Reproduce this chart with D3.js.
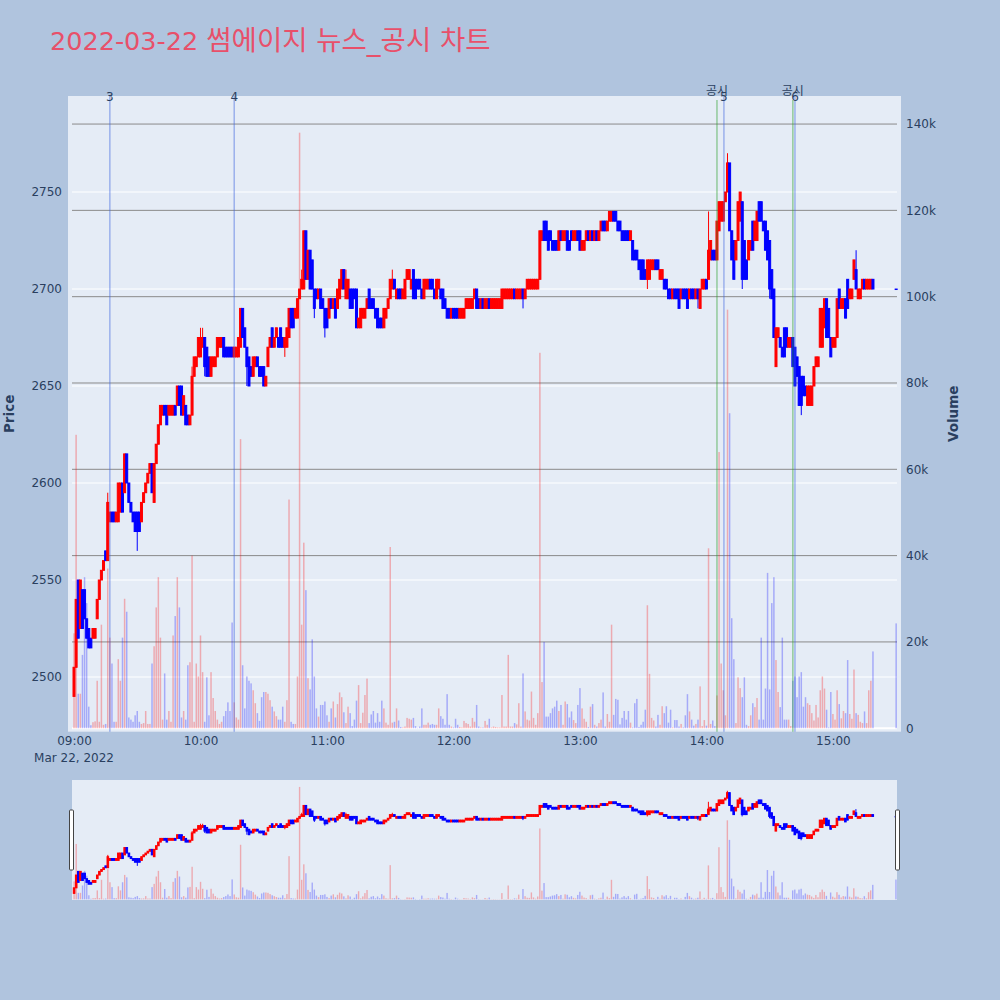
<!DOCTYPE html>
<html>
<head>
<meta charset="utf-8">
<script src="https://cdn.jsdelivr.net/npm/d3@7"></script>
<style>
  body { margin: 0; background: #b0c4de; }
  svg { display: block; font-family: "DejaVu Sans", "Noto Sans CJK KR", sans-serif; }
</style>
</head>
<body>
<div id="wrapper"></div>
<script>
// one-minute candles from 09:00 (index = minutes after the open)
const opens = [
  2490,2505,2550,2525,2545,2545,2530,2525,2520,2520, 2520,2530,2540,2550,2555,2565,2560,2580,2585,2585,
  2580,2580,2585,2600,2595,2615,2600,2590,2585,2585, 2585,2585,2580,2590,2595,2600,2605,2610,2590,2610,
  2620,2630,2635,2640,2640,2635,2635,2635,2640,2640, 2650,2650,2635,2640,2635,2630,2635,2655,2660,2665,
  2665,2670,2675,2670,2665,2655,2660,2660,2665,2670, 2670,2675,2670,2670,2670,2670,2665,2665,2665,2670,
  2690,2680,2670,2665,2660,2655,2660,2665,2660,2660, 2660,2650,2660,2670,2680,2670,2675,2675,2680,2675,
  2670,2670,2675,2690,2690,2685,2685,2695,2700,2700, 2730,2705,2720,2715,2700,2700,2695,2700,2695,2690,
  2690,2685,2695,2690,2695,2690,2695,2700,2710,2695, 2695,2700,2700,2700,2700,2680,2680,2685,2685,2690,
  2700,2695,2695,2690,2690,2685,2685,2680,2685,2690, 2695,2700,2705,2695,2700,2700,2695,2695,2705,2705,
  2700,2710,2705,2705,2705,2700,2695,2700,2700,2705, 2705,2700,2695,2700,2700,2700,2695,2690,2690,2685,
  2690,2690,2690,2685,2685,2685,2690,2690,2690,2690, 2695,2700,2695,2690,2695,2690,2690,2695,2690,2690,
  2690,2690,2690,2690,2695,2695,2695,2695,2695,2700, 2695,2695,2695,2700,2695,2700,2700,2700,2700,2700,
  2700,2705,2725,2735,2735,2730,2730,2725,2725,2725, 2720,2730,2725,2725,2730,2725,2730,2725,2725,2730,
  2730,2720,2720,2725,2730,2725,2730,2725,2730,2725, 2730,2735,2735,2730,2735,2735,2740,2740,2735,2735,
  2730,2730,2730,2730,2725,2725,2720,2720,2715,2715, 2715,2710,2705,2705,2710,2710,2715,2715,2705,2705,
  2705,2705,2700,2700,2695,2700,2700,2700,2695,2700, 2700,2700,2695,2700,2700,2695,2700,2690,2700,2700,
  2705,2705,2715,2720,2720,2715,2730,2735,2735,2745, 2750,2765,2730,2725,2715,2725,2735,2745,2725,2715,
  2715,2720,2735,2725,2725,2745,2745,2735,2735,2730, 2725,2710,2700,2660,2675,2675,2670,2680,2680,2670,
  2670,2675,2670,2665,2660,2655,2655,2650,2640,2640, 2640,2650,2660,2660,2670,2670,2680,2695,2690,2675,
  2670,2670,2675,2700,2690,2690,2695,2705,2695,2695, 2705,2710,2695,2695,2700,2705,2700,2700,2700,2705
];
const closes = [
  2505,2540,2520,2550,2525,2530,2520,2515,2515,2525, 2525,2540,2550,2555,2560,2560,2590,2585,2580,2580,
  2585,2600,2600,2585,2615,2600,2590,2585,2580,2575, 2575,2575,2590,2595,2600,2605,2610,2595,2610,2620,
  2630,2640,2640,2635,2630,2640,2640,2640,2635,2650, 2640,2635,2645,2630,2630,2635,2655,2665,2665,2675,
  2675,2675,2660,2655,2655,2665,2665,2665,2675,2675, 2675,2665,2665,2665,2665,2665,2670,2670,2675,2690,
  2675,2670,2660,2650,2655,2665,2665,2660,2655,2655, 2650,2655,2670,2675,2670,2675,2680,2670,2670,2670,
  2675,2680,2690,2680,2680,2690,2695,2700,2705,2730, 2705,2720,2700,2700,2690,2695,2700,2690,2690,2680,
  2680,2695,2690,2695,2685,2700,2705,2710,2700,2705, 2705,2690,2690,2695,2680,2685,2690,2690,2690,2695,
  2690,2690,2690,2685,2680,2680,2680,2690,2690,2695, 2705,2705,2700,2700,2695,2695,2700,2705,2710,2710,
  2705,2695,2695,2700,2700,2695,2705,2705,2705,2700, 2700,2695,2705,2705,2695,2690,2690,2685,2685,2690,
  2685,2685,2685,2690,2690,2690,2695,2695,2695,2695, 2700,2690,2690,2695,2690,2695,2695,2690,2695,2695,
  2695,2695,2695,2700,2700,2700,2700,2700,2700,2695, 2700,2700,2700,2695,2700,2705,2705,2705,2705,2705,
  2705,2730,2730,2725,2725,2720,2725,2720,2720,2720, 2730,2725,2730,2730,2720,2720,2725,2730,2730,2725,
  2720,2725,2725,2730,2725,2730,2725,2730,2725,2730, 2735,2730,2730,2735,2740,2740,2735,2735,2730,2730,
  2725,2725,2725,2725,2730,2715,2715,2715,2710,2705, 2705,2705,2715,2715,2715,2715,2710,2710,2710,2710,
  2700,2700,2695,2695,2700,2695,2695,2690,2700,2695, 2695,2690,2700,2695,2695,2700,2695,2700,2705,2705,
  2700,2720,2725,2715,2715,2735,2745,2745,2745,2750, 2765,2730,2715,2705,2725,2745,2750,2705,2705,2705,
  2725,2725,2720,2735,2740,2735,2735,2730,2720,2715, 2700,2695,2675,2680,2680,2670,2665,2665,2670,2675,
  2675,2660,2650,2655,2640,2640,2645,2645,2650,2650, 2650,2660,2665,2665,2690,2690,2695,2675,2675,2665,
  2675,2675,2695,2690,2695,2695,2685,2690,2700,2700, 2715,2700,2700,2700,2705,2700,2705,2705,2705,2700
];
// wick ends that reach past the body (minute -> price)
const wickHigh = {16: 2595, 56: 2660, 60: 2680, 61: 2680, 108: 2710, 129: 2710, 151: 2710,
  272: 2715, 301: 2740, 310: 2770, 371: 2720};
const wickLow = {30: 2565, 62: 2655, 82: 2650, 100: 2665, 114: 2685, 119: 2675, 213: 2690,
  272: 2700, 296: 2690, 317: 2700, 330: 2695, 345: 2635};
const volumes = [
  22000,68000,8000,8000,17000,35000,29000,5000,700,1400, 1600,11000,1500,24000,800,1000,37000,21000,15000,1500,
  1500,16000,11000,21000,30000,27000,2500,2000,1500,3000, 4000,1500,1000,1200,4000,1000,1000,15000,19000,28000,
  35000,21000,2000,12700,2000,4000,1500,21500,26000,35000, 28000,2500,4000,2000,14600,15300,40000,1500,15000,12000,
  21500,13000,1500,11800,3000,13000,7000,4000,2000,1000, 1500,2800,4000,6000,4000,24500,6000,2500,2000,67000,
  14600,4600,12000,11000,10400,8800,5800,3500,1700,7200, 8400,8400,8000,6500,5000,3900,2800,2000,2000,5000,
  1500,6500,53000,1500,1000,1000,12000,138000,24000,43000, 32000,11600,9000,20600,12000,4600,2700,5400,5400,6200,
  3000,1500,4600,6200,2500,5600,8300,7200,3700,1200, 5000,3500,500,2000,6400,10000,1200,3600,7700,11500,
  1200,3200,4000,1300,3500,1500,6400,4600,1300,800, 42000,1300,1500,4600,1800,300,200,400,2400,2200,
  2000,2400,500,100,400,4600,800,800,1300,800, 1000,800,800,4600,2800,2200,800,7900,800,400,
  200,2200,800,300,200,1700,1200,1000,400,2400, 1500,5400,400,200,200,1700,800,2200,200,400,
  300,200,200,7700,400,400,17000,400,400,1200, 900,5800,400,12700,3900,2000,1800,8500,2400,800,
  3500,87000,10700,20000,2700,2700,3500,4600,5000,6400, 4000,5400,800,6200,5600,2500,3900,1900,1200,5400,
  9300,4600,2200,1500,300,5000,5600,800,400,1200, 2000,8300,400,3300,1500,24000,3100,6800,6600,900,
  2400,4000,2000,4000,1300,200,5800,6800,300,800, 1500,4300,28500,12600,2400,1800,400,3100,800,5100,
  3500,5100,1300,4300,200,1900,1900,400,1000,200, 3000,7900,3900,2000,600,1000,2000,9700,500,1900,
  600,41700,1000,1800,500,7600,64000,15000,8800,3000, 97000,73000,25500,16000,1200,11800,9300,7200,11800,800,
  500,3000,5800,4900,7000,2000,21000,2000,9200,36000, 9000,29000,35000,15800,8400,4900,21000,2000,2000,2000,
  500,11000,12000,7200,12000,13000,5000,7200,5800,5400, 3500,1800,5400,2500,8800,12000,9200,4300,200,8400,
  3300,2000,8800,5600,2300,4000,3500,15800,3300,2200, 13600,3500,3100,1500,1200,3900,1200,8800,11000,17800
];
// closing auction print at 15:30
const closingMinute = 390, closingPrice = 2700, closingVolume = 24300;

const priceTicks = [2500, 2550, 2600, 2650, 2700, 2750];
const volumeTicks = [0, 20000, 40000, 60000, 80000, 100000, 120000, 140000];
const tickHours = [9, 10, 11, 12, 13, 14, 15];
const newsLines = [{minute: 17, label: "3"}, {minute: 76, label: "4"}, {minute: 308.3, label: "5"}, {minute: 342, label: "6"}];
const noticeLines = [{minute: 305, label: "공시"}, {minute: 341, label: "공시"}];
const titleDate = "2022-03-22 ";
const titleName = "썸에이지 뉴스_공시 차트";

const upColor = "#ff0000", downColor = "#0000ff", textColor = "#2a3f5f";
const t0 = new Date(2022, 2, 22, 9, 0);
const at = m => new Date(t0.getTime() + m * 60000);

const data = opens.map((o, i) => {
  const c = closes[i];
  return {
    t: at(i), o: o, c: c,
    h: wickHigh[i] !== undefined ? wickHigh[i] : Math.max(o, c),
    l: wickLow[i] !== undefined ? wickLow[i] : Math.min(o, c),
    v: volumes[i]
  };
});
data.push({t: at(closingMinute), o: closingPrice, c: closingPrice, h: closingPrice, l: closingPrice, v: closingVolume});
const isUp = d => d.c > d.o;

const plot = {left: 68, right: 901, top: 96, bottom: 731.7};
const slider = {left: 72, right: 897, top: 780, bottom: 900};

const svg = d3.select("#wrapper").append("svg").attr("width", 1000).attr("height", 1000);
svg.append("rect").attr("width", 1000).attr("height", 1000).attr("fill", "#b0c4de");

const x = d3.scaleTime().domain([at(-2.85), at(392.3)]).range([plot.left, plot.right]);
const yPrice = d3.scaleLinear().domain([2471.8, 2799.5]).range([plot.bottom, plot.top]);
const yVol = d3.scaleLinear().domain([-800, 146500]).range([plot.bottom, plot.top]);

// plot background and grids
svg.append("rect").attr("x", plot.left).attr("y", plot.top)
  .attr("width", plot.right - plot.left).attr("height", plot.bottom - plot.top).attr("fill", "#e5ecf6");
svg.append("g").selectAll("line").data(priceTicks).join("line")
  .attr("x1", 72).attr("x2", 897).attr("y1", d => yPrice(d)).attr("y2", d => yPrice(d))
  .attr("stroke", "#fff").attr("stroke-width", 1.2);
svg.append("g").selectAll("line").data(volumeTicks.slice(1)).join("line")
  .attr("x1", 72).attr("x2", 897).attr("y1", d => yVol(d)).attr("y2", d => yVol(d))
  .attr("stroke", "#8a8a8a").attr("stroke-width", 1);
svg.append("line").attr("x1", 72).attr("x2", 897).attr("y1", yVol(0)).attr("y2", yVol(0))
  .attr("stroke", "#fff").attr("stroke-width", 2);

// volume bars
svg.append("g").selectAll("rect").data(data).join("rect")
  .attr("x", d => x(d.t) - 0.75).attr("width", 1.5)
  .attr("y", d => yVol(d.v)).attr("height", d => yVol(0) - yVol(d.v))
  .attr("fill", d => isUp(d) ? upColor : downColor).attr("opacity", 0.28);

// candles
function drawCandles(g, xs, ys, bodyW, lineW) {
  const c = g.selectAll("g").data(data).join("g")
    .attr("stroke", d => isUp(d) ? upColor : downColor)
    .attr("fill", d => isUp(d) ? upColor : downColor);
  c.append("line")
    .attr("x1", d => xs(d.t)).attr("x2", d => xs(d.t))
    .attr("y1", d => ys(d.h)).attr("y2", d => ys(d.l)).attr("stroke-width", 1);
  c.append("rect")
    .attr("x", d => xs(d.t) - bodyW / 2).attr("width", bodyW)
    .attr("y", d => ys(Math.max(d.o, d.c)))
    .attr("height", d => Math.max(ys(Math.min(d.o, d.c)) - ys(Math.max(d.o, d.c)), 0.5))
    .attr("stroke-width", lineW);
}
drawCandles(svg.append("g"), x, yPrice, 2, 1);

// event lines
const ev = svg.append("g");
ev.selectAll(".notice").data(noticeLines).join("line")
  .attr("x1", d => x(at(d.minute))).attr("x2", d => x(at(d.minute)))
  .attr("y1", 100).attr("y2", plot.bottom)
  .attr("stroke", "#2ca02c").attr("stroke-opacity", 0.45).attr("stroke-width", 1.5);
ev.selectAll(".news").data(newsLines).join("line")
  .attr("x1", d => x(at(d.minute))).attr("x2", d => x(at(d.minute)))
  .attr("y1", plot.top).attr("y2", plot.bottom)
  .attr("stroke", "royalblue").attr("stroke-opacity", 0.45).attr("stroke-width", 1.5);
ev.selectAll(".noticeText").data(noticeLines).join("text")
  .attr("x", d => x(at(d.minute))).attr("y", 95).attr("text-anchor", "middle")
  .attr("font-size", 12).attr("fill", textColor).text(d => d.label);
ev.selectAll(".newsText").data(newsLines).join("text")
  .attr("x", d => x(at(d.minute))).attr("y", 101).attr("text-anchor", "middle")
  .attr("font-size", 12).attr("fill", textColor).text(d => d.label);

// axes
const xAxis = svg.append("g").attr("transform", `translate(0,${plot.bottom})`)
  .call(d3.axisBottom(x).tickValues(tickHours.map(h => at((h - 9) * 60)))
    .tickFormat(d3.timeFormat("%H:%M")).tickSize(0).tickPadding(5));
xAxis.append("text").attr("x", x(t0)).attr("y", 30).attr("text-anchor", "middle")
  .attr("fill", textColor).attr("font-size", 12).text("Mar 22, 2022");
const yAxisL = svg.append("g").attr("transform", `translate(${plot.left},0)`)
  .call(d3.axisLeft(yPrice).tickValues(priceTicks).tickFormat(d3.format("d")).tickSize(0).tickPadding(6));
const yAxisR = svg.append("g").attr("transform", `translate(${plot.right},0)`)
  .call(d3.axisRight(yVol).tickValues(volumeTicks).tickFormat(d3.format("~s")).tickSize(0).tickPadding(5));
[xAxis, yAxisL, yAxisR].forEach(a => {
  a.select(".domain").remove();
  a.selectAll("text").attr("fill", textColor).attr("font-size", 12)
    .attr("font-family", "\"DejaVu Sans\", sans-serif");
});

svg.append("text").attr("transform", `translate(14,${(plot.top + plot.bottom) / 2}) rotate(-90)`)
  .attr("text-anchor", "middle").attr("font-size", 13.5).attr("font-weight", "bold")
  .attr("fill", textColor).text("Price");
svg.append("text").attr("transform", `translate(958,${(plot.top + plot.bottom) / 2}) rotate(-90)`)
  .attr("text-anchor", "middle").attr("font-size", 13.5).attr("font-weight", "bold")
  .attr("fill", textColor).text("Volume");

// title
const titleText = svg.append("text").attr("x", 50).attr("y", 50).attr("fill", "#e8506a");
titleText.append("tspan").attr("font-size", 25.5).text(titleDate);
titleText.append("tspan").attr("font-size", 27.5).text(titleName);

// range slider
const xs = d3.scaleTime().domain([at(-1), at(390.5)]).range([slider.left, slider.right]);
const ysPrice = d3.scaleLinear().domain(yPrice.domain()).range([slider.bottom, slider.top]);
const ysVol = d3.scaleLinear().domain(yVol.domain()).range([slider.bottom, slider.top]);
svg.append("rect").attr("x", slider.left).attr("y", slider.top)
  .attr("width", slider.right - slider.left).attr("height", slider.bottom - slider.top).attr("fill", "#e5ecf6");
svg.append("g").selectAll("rect").data(data).join("rect")
  .attr("x", d => xs(d.t) - 0.7).attr("width", 1.4)
  .attr("y", d => ysVol(d.v)).attr("height", d => ysVol(0) - ysVol(d.v))
  .attr("fill", d => isUp(d) ? upColor : downColor).attr("opacity", 0.28);
drawCandles(svg.append("g"), xs, ysPrice, 1.6, 1);
[slider.left - 2.5, slider.right - 1.5].forEach(hx => {
  svg.append("rect").attr("x", hx).attr("y", 810).attr("width", 4).attr("height", 60)
    .attr("fill", "#fff").attr("stroke", "#444").attr("stroke-width", 1).attr("rx", 1);
});
</script>
</body>
</html>
